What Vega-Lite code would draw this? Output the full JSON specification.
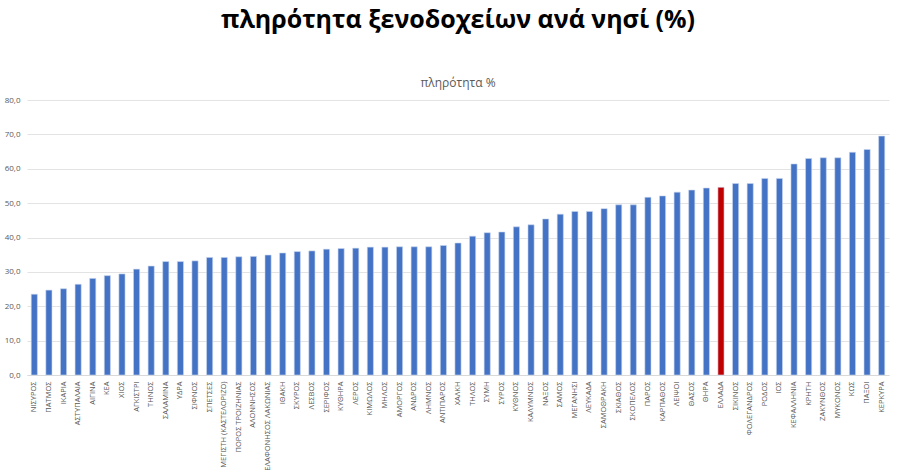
{
  "$schema": "https://vega.github.io/schema/vega-lite/v6.json",
  "width": 862,
  "height": 275,
  "autosize": {"type": "none"},
  "padding": {"left": 27, "top": 100, "right": 11, "bottom": 96},
  "background": "white",
  "title": {
    "text": "πληρότητα ξενοδοχείων ανά νησί (%)",
    "subtitle": "πληρότητα %",
    "anchor": "middle",
    "font": "Open Sans",
    "fontSize": 25,
    "fontWeight": "bold",
    "color": "#000000",
    "subtitleFont": "Open Sans",
    "subtitleFontSize": 12,
    "subtitleColor": "#595959",
    "subtitlePadding": 45,
    "offset": 7
  },
  "data": {
    "values": [
      {"island": "ΝΙΣΥΡΟΣ", "value": 23.5},
      {"island": "ΠΑΤΜΟΣ", "value": 24.7},
      {"island": "ΙΚΑΡΙΑ", "value": 25.1},
      {"island": "ΑΣΤΥΠΑΛΑΙΑ", "value": 26.4},
      {"island": "ΑΙΓΙΝΑ", "value": 28.1},
      {"island": "ΚΕΑ", "value": 28.9},
      {"island": "ΧΙΟΣ", "value": 29.4},
      {"island": "ΑΓΚΙΣΤΡΙ", "value": 30.8},
      {"island": "ΤΗΝΟΣ", "value": 31.7},
      {"island": "ΣΑΛΑΜΙΝΑ", "value": 33.0},
      {"island": "ΥΔΡΑ", "value": 33.0},
      {"island": "ΣΙΦΝΟΣ", "value": 33.2},
      {"island": "ΣΠΕΤΣΕΣ", "value": 34.2},
      {"island": "ΜΕΓΙΣΤΗ (ΚΑΣΤΕΛΟΡΙΖΟ)", "value": 34.2},
      {"island": "ΠΟΡΟΣ ΤΡΟΙΖΗΝΙΑΣ", "value": 34.4},
      {"island": "ΑΛΟΝΝΗΣΟΣ", "value": 34.5},
      {"island": "ΕΛΑΦΟΝΗΣΟΣ ΛΑΚΩΝΙΑΣ", "value": 34.9},
      {"island": "ΙΘΑΚΗ", "value": 35.5},
      {"island": "ΣΚΥΡΟΣ", "value": 35.9},
      {"island": "ΛΕΣΒΟΣ", "value": 36.1},
      {"island": "ΣΕΡΙΦΟΣ", "value": 36.6},
      {"island": "ΚΥΘΗΡΑ", "value": 36.8},
      {"island": "ΛΕΡΟΣ", "value": 36.9},
      {"island": "ΚΙΜΩΛΟΣ", "value": 37.2},
      {"island": "ΜΗΛΟΣ", "value": 37.2},
      {"island": "ΑΜΟΡΓΟΣ", "value": 37.3},
      {"island": "ΑΝΔΡΟΣ", "value": 37.3},
      {"island": "ΛΗΜΝΟΣ", "value": 37.3},
      {"island": "ΑΝΤΙΠΑΡΟΣ", "value": 37.7},
      {"island": "ΧΑΛΚΗ", "value": 38.4},
      {"island": "ΤΗΛΟΣ", "value": 40.4},
      {"island": "ΣΥΜΗ", "value": 41.4},
      {"island": "ΣΥΡΟΣ", "value": 41.6},
      {"island": "ΚΥΘΝΟΣ", "value": 43.1},
      {"island": "ΚΑΛΥΜΝΟΣ", "value": 43.7},
      {"island": "ΝΑΞΟΣ", "value": 45.4},
      {"island": "ΣΑΜΟΣ", "value": 46.8},
      {"island": "ΜΕΓΑΝΗΣΙ", "value": 47.6},
      {"island": "ΛΕΥΚΑΔΑ", "value": 47.6},
      {"island": "ΣΑΜΟΘΡΑΚΗ", "value": 48.4},
      {"island": "ΣΚΙΑΘΟΣ", "value": 49.5},
      {"island": "ΣΚΟΠΕΛΟΣ", "value": 49.5},
      {"island": "ΠΑΡΟΣ", "value": 51.7},
      {"island": "ΚΑΡΠΑΘΟΣ", "value": 52.1},
      {"island": "ΛΕΙΨΟΙ", "value": 53.2},
      {"island": "ΘΑΣΟΣ", "value": 53.8},
      {"island": "ΘΗΡΑ", "value": 54.4},
      {"island": "ΕΛΛΑΔΑ", "value": 54.6},
      {"island": "ΣΙΚΙΝΟΣ", "value": 55.7},
      {"island": "ΦΟΛΕΓΑΝΔΡΟΣ", "value": 55.7},
      {"island": "ΡΟΔΟΣ", "value": 57.2},
      {"island": "ΙΟΣ", "value": 57.2},
      {"island": "ΚΕΦΑΛΛΗΝΙΑ", "value": 61.4},
      {"island": "ΚΡΗΤΗ", "value": 63.0},
      {"island": "ΖΑΚΥΝΘΟΣ", "value": 63.2},
      {"island": "ΜΥΚΟΝΟΣ", "value": 63.2},
      {"island": "ΚΩΣ", "value": 64.8},
      {"island": "ΠΑΞΟΙ", "value": 65.6},
      {"island": "ΚΕΡΚΥΡΑ", "value": 69.5}
    ]
  },
  "mark": {"type": "bar", "stroke": "#c9d6ee", "strokeWidth": 0.6},
  "encoding": {
    "x": {
      "field": "island",
      "type": "nominal",
      "sort": null,
      "scale": {"paddingInner": 0.58, "paddingOuter": 0.29},
      "axis": {
        "title": null,
        "labelAngle": -90,
        "labelFont": "Open Sans",
        "labelFontSize": 7.5,
        "labelColor": "#595959",
        "labelPadding": 6,
        "ticks": false,
        "domainColor": "#d9d9d9",
        "labelLimit": 200,
        "labelOverlap": false
      }
    },
    "y": {
      "field": "value",
      "type": "quantitative",
      "scale": {"domain": [0, 80], "nice": false},
      "axis": {
        "title": null,
        "values": [0, 10, 20, 30, 40, 50, 60, 70, 80],
        "labelExpr": "replace(format(datum.value, '.1f'), '.', ',')",
        "labelFont": "Open Sans",
        "labelFontSize": 8,
        "labelColor": "#595959",
        "labelPadding": 7,
        "domain": false,
        "ticks": false,
        "gridColor": "#e3e3e3",
        "gridWidth": 1
      }
    },
    "color": {
      "condition": {"test": "datum.island === 'ΕΛΛΑΔΑ'", "value": "#C00000"},
      "value": "#4472C4"
    }
  },
  "config": {"view": {"stroke": null}}
}
